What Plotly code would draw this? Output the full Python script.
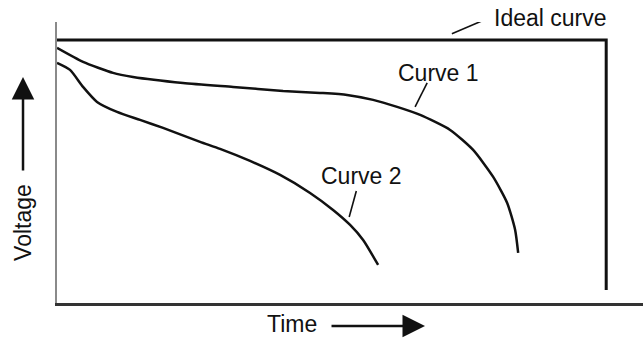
import plotly.graph_objects as go

# discharge curves, time in % of ideal run time, voltage in % of ideal voltage
curve1_time = [0, 4.74, 10.2, 13.84, 22.95, 32.06, 41.17, 47.9, 52.82, 57.56, 61.93, 66.12,
               71.58, 75.77, 79.42, 81.97, 83.42, 83.97]
curve1_volt = [96.96, 91.63, 87.45, 85.93, 83.65, 82.13, 80.61, 79.85, 79.09, 77.19, 74.52, 71.48,
               65.78, 58.17, 47.91, 38.02, 27.76, 19.01]

curve2_time = [0, 2.37, 4.74, 7.29, 10.93, 15.12, 19.31, 26.05, 29.69, 35.15, 40.62, 46.08,
               50.27, 53.37, 55.74, 58.47]
curve2_volt = [91.25, 88.59, 82.13, 76.43, 72.62, 69.58, 66.54, 61.22, 58.56, 53.99, 48.67, 41.83,
               35.36, 29.66, 23.95, 14.45]

ideal_time = [0, 100, 100]
ideal_volt = [100, 100, 4.9]

# curve labels and leader line ends
labels = ["Curve 1", "Curve 2"]
label_x = [69.4, 55.4]
label_y = [87.5, 48.3]
leader_x = [[71.9, 77.8], [65.2, 67.4], [53.2, 54.5]]
leader_y = [[102.3, 107.6], [74.5, 83.7], [32.7, 42.6]]

FONT = "Liberation Sans, Arial, sans-serif"
TXT = dict(family=FONT, size=23, color="#111")

fig = go.Figure()

fig.add_trace(go.Scatter(x=ideal_time, y=ideal_volt, mode="lines",
                         line=dict(color="#111", width=3), cliponaxis=False))
fig.add_trace(go.Scatter(x=curve1_time, y=curve1_volt, mode="lines",
                         line=dict(color="#111", width=2.5, shape="spline", smoothing=0.6)))
fig.add_trace(go.Scatter(x=curve2_time, y=curve2_volt, mode="lines",
                         line=dict(color="#111", width=2.5, shape="spline", smoothing=0.6)))

for lx, ly in zip(leader_x, leader_y):
    fig.add_trace(go.Scatter(x=lx, y=ly, mode="lines", cliponaxis=False,
                             line=dict(color="#111", width=1.6)))

for txt, x, y in zip(labels, label_x, label_y):
    fig.add_annotation(x=x, y=y, text=txt, showarrow=False, font=TXT)

# above the plot area, so placed on paper
fig.add_annotation(xref="paper", yref="paper", x=0.843, y=1.014, text="Ideal curve",
                   xanchor="center", yanchor="middle", showarrow=False, font=TXT)

# axis titles with arrows (arrow tails given as pixel offsets)
fig.add_annotation(xref="paper", yref="paper", x=-0.058, y=0.285, text="Voltage",
                   xanchor="center", yanchor="middle",
                   textangle=-90, showarrow=False, font=TXT)
fig.add_annotation(xref="paper", yref="paper", x=-0.058, y=0.804, ax=0, ay=95,
                   text="", showarrow=True,
                   arrowhead=2, arrowsize=1.8, arrowwidth=2.5, arrowcolor="#111")
fig.add_annotation(xref="paper", yref="paper", x=0.401, y=-0.075, text="Time",
                   xanchor="center", yanchor="middle", showarrow=False, font=TXT)
fig.add_annotation(xref="paper", yref="paper", x=0.628, y=-0.082, ax=-95, ay=0,
                   text="", showarrow=True,
                   arrowhead=2, arrowsize=1.8, arrowwidth=2.5, arrowcolor="#111")

fig.update_xaxes(range=[0, 106.7], showgrid=False, zeroline=False, showticklabels=False,
                 ticks="", showline=True, linecolor="#333", linewidth=2.5)
fig.update_yaxes(range=[0, 106.8], showgrid=False, zeroline=False, showticklabels=False,
                 ticks="", showline=True, linecolor="#8a8a8a", linewidth=2)

fig.update_layout(width=643, height=338, margin=dict(l=57, r=0, t=22, b=35),
                  showlegend=False, plot_bgcolor="white", paper_bgcolor="white")

fig.write_html("out.html", config={"displayModeBar": False},
               post_script="document.body.style.margin='0';")
